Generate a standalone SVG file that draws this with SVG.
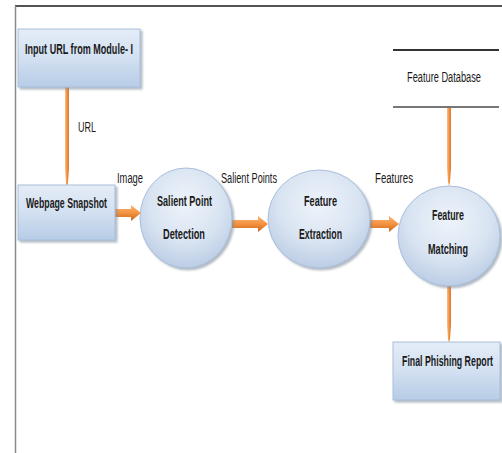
<svg xmlns="http://www.w3.org/2000/svg" width="502" height="453" viewBox="0 0 502 453">
<defs>
<linearGradient id="boxg" x1="0" y1="0" x2="0" y2="1">
<stop offset="0" stop-color="#e4ecf7"/>
<stop offset="0.45" stop-color="#d5e2f2"/>
<stop offset="1" stop-color="#b7cce6"/>
</linearGradient>
<radialGradient id="circg" cx="0.5" cy="0.35" r="0.65">
<stop offset="0" stop-color="#eef3fa"/>
<stop offset="0.6" stop-color="#d9e4f2"/>
<stop offset="1" stop-color="#bccde5"/>
</radialGradient>
<linearGradient id="arrh" x1="0" y1="0" x2="0" y2="1">
<stop offset="0" stop-color="#fbb47a"/>
<stop offset="0.5" stop-color="#f5923e"/>
<stop offset="1" stop-color="#c8661e"/>
</linearGradient>
<linearGradient id="arrv" x1="0" y1="0" x2="1" y2="0">
<stop offset="0" stop-color="#fbc08e"/>
<stop offset="0.5" stop-color="#f5923e"/>
<stop offset="1" stop-color="#d8772e"/>
</linearGradient>
<filter id="sh" x="-10%" y="-10%" width="130%" height="130%">
<feDropShadow dx="2" dy="2" stdDeviation="1.2" flood-color="#7f8a99" flood-opacity="0.6"/>
</filter>
</defs>
<style>
.box{fill:url(#boxg);stroke:#a9bfdc;stroke-width:1;filter:url(#sh)}
.circ{fill:url(#circg);stroke:#a9bfdc;stroke-width:1;filter:url(#sh)}
text{font-family:"Liberation Sans",Arial,sans-serif;fill:#1a1a1a;font-size:14px}
.b{font-weight:bold;font-size:15px}
</style>
<rect width="502" height="453" fill="#ffffff"/>
<g id="frame">
<line x1="15" y1="6" x2="502" y2="6" stroke="#1a1a1a" stroke-width="1.5"/>
<line x1="15.5" y1="6" x2="15.5" y2="453" stroke="#8a8a8a" stroke-width="1.5"/>
</g>
<g id="connectors">
<polygon fill="url(#arrv)" points="65,87 69,87 69,168 68,183 67,187 66,183 65,168"/>
<polygon fill="url(#arrv)" points="447,107 451,107 451,168 450,182 449,186 448,182 447,168"/>
<polygon fill="url(#arrv)" points="447,286 451,286 451,325 450,339 449,343 448,339 447,325"/>
<polygon fill="url(#arrh)" points="115,209 131,209 131,205 141,213 131,221 131,217 115,217"/>
<polygon fill="url(#arrh)" points="232,220 258,220 258,216 268,224 258,232 258,228 232,228"/>
<polygon fill="url(#arrh)" points="370,220 389,220 389,216 399,224 389,232 389,228 370,228"/>
<text x="78" y="132" textLength="18" lengthAdjust="spacingAndGlyphs">URL</text>
<text x="117" y="183" textLength="26" lengthAdjust="spacingAndGlyphs">Image</text>
<text x="221" y="183" textLength="56" lengthAdjust="spacingAndGlyphs">Salient Points</text>
<text x="375" y="183" textLength="38" lengthAdjust="spacingAndGlyphs">Features</text>
</g>
<g id="input">
<rect class="box" x="18" y="29" width="122" height="58"/>
<text class="b" x="25" y="54" textLength="108" lengthAdjust="spacingAndGlyphs">Input URL from Module- I</text>
</g>
<g id="snapshot">
<rect class="box" x="18" y="185" width="97" height="55"/>
<text class="b" x="26" y="208" textLength="81" lengthAdjust="spacingAndGlyphs">Webpage Snapshot</text>
</g>
<g id="salient">
<ellipse class="circ" cx="186" cy="218" rx="46" ry="50"/>
<text class="b" x="157" y="206" textLength="55" lengthAdjust="spacingAndGlyphs">Salient Point</text>
<text class="b" x="163" y="239" textLength="42" lengthAdjust="spacingAndGlyphs">Detection</text>
</g>
<g id="extraction">
<ellipse class="circ" cx="319" cy="219" rx="51" ry="49"/>
<text class="b" x="304" y="206" textLength="33" lengthAdjust="spacingAndGlyphs">Feature</text>
<text class="b" x="299" y="239" textLength="43" lengthAdjust="spacingAndGlyphs">Extraction</text>
</g>
<g id="matching">
<ellipse class="circ" cx="449" cy="236" rx="51" ry="50"/>
<text class="b" x="432" y="220" textLength="32" lengthAdjust="spacingAndGlyphs">Feature</text>
<text class="b" x="428" y="254" textLength="40" lengthAdjust="spacingAndGlyphs">Matching</text>
</g>
<g id="database">
<line x1="393" y1="50" x2="499" y2="50" stroke="#333333" stroke-width="2"/>
<line x1="393" y1="107" x2="499" y2="107" stroke="#777777" stroke-width="2"/>
<text x="407" y="82" textLength="74" lengthAdjust="spacingAndGlyphs">Feature Database</text>
</g>
<g id="report">
<rect class="box" x="393" y="342" width="107" height="58"/>
<text class="b" x="402" y="366" textLength="91" lengthAdjust="spacingAndGlyphs">Final Phishing Report</text>
</g>
</svg>
